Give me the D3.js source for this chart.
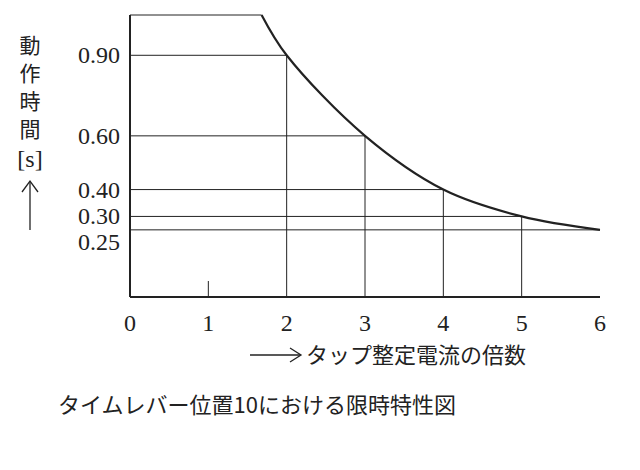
<!DOCTYPE html>
<html><head><meta charset="utf-8">
<script src="https://cdn.jsdelivr.net/npm/d3@7"></script>
<style>body{margin:0;background:#fff}</style></head>
<body><svg id="c" width="640" height="470"></svg>
<script>
const curveX = [1.68, 2, 3, 4, 5, 6];
const curveY = [1.05, 0.9, 0.6, 0.4, 0.3, 0.25];
const gridX = [2, 3, 4, 5];
const gridY = [0.9, 0.6, 0.4, 0.3, 0.25];
const xTicks = [0, 1, 2, 3, 4, 5, 6];
const yTickLabels = ['0.90', '0.60', '0.40', '0.30', '0.25'];
const yLabelChars = ['動', '作', '時', '間'];

const svg = d3.select('#c');
const x = d3.scaleLinear().domain([0, 6]).range([130, 600]);
const y = d3.scaleLinear().domain([0, 1.05]).range([297, 15]);
const serif = 'Liberation Serif, DejaVu Serif, serif';
const jp = 'Noto Sans CJK JP, sans-serif';
const at = v => curveY[curveX.indexOf(v)];

const line = d3.line().x((d, i) => x(curveX[i])).y(d => y(d)).curve(d3.curveCatmullRom.alpha(0.5));
svg.append('path').datum(curveY).attr('d', line)
  .attr('fill', 'none').attr('stroke', '#222').attr('stroke-width', 2.2);

const g = svg.append('g').attr('stroke', '#222').attr('stroke-width', 1);
g.selectAll('.h').data(gridY).join('line')
  .attr('x1', x(0)).attr('x2', d => x(curveX[curveY.indexOf(d)])).attr('y1', d => y(d)).attr('y2', d => y(d));
g.selectAll('.v').data(gridX).join('line')
  .attr('x1', d => x(d)).attr('x2', d => x(d)).attr('y1', y(0)).attr('y2', d => y(at(d)));
g.append('line').attr('x1', x(1)).attr('x2', x(1)).attr('y1', y(0)).attr('y2', y(0) - 16);
g.append('line').attr('x1', x(0)).attr('x2', x(curveX[0])).attr('y1', y(1.05)).attr('y2', y(1.05));
g.append('line').attr('x1', x(0)).attr('x2', x(0)).attr('y1', y(1.05)).attr('y2', y(0)).attr('stroke-width', 2);
g.append('line').attr('x1', x(0)).attr('x2', x(6)).attr('y1', y(0)).attr('y2', y(0)).attr('stroke-width', 2);

svg.selectAll('.xt').data(xTicks).join('text')
  .attr('x', d => x(d)).attr('y', 331).attr('text-anchor', 'middle')
  .attr('font-family', serif).attr('font-size', 24).attr('fill', '#222').text(d => d);
svg.selectAll('.yt').data(gridY).join('text')
  .attr('x', 120).attr('y', d => y(d) + 8 + (d === 0.25 ? 12 : 0)).attr('text-anchor', 'end')
  .attr('font-family', serif).attr('font-size', 24).attr('fill', '#222').text((d, i) => yTickLabels[i]);

svg.selectAll('.yl').data(yLabelChars).join('text')
  .attr('x', 30).attr('y', (d, i) => 53 + i * 28).attr('text-anchor', 'middle')
  .attr('font-family', jp).attr('font-size', 21).attr('fill', '#222').text(d => d);
svg.append('text').attr('x', 30).attr('y', 167).attr('text-anchor', 'middle')
  .attr('font-family', serif).attr('font-size', 24).attr('fill', '#222').text('[s]');
svg.append('line').attr('x1', 30).attr('x2', 30).attr('y1', 182).attr('y2', 230).attr('stroke', '#222').attr('stroke-width', 1.3);
svg.append('path').attr('d', 'M22,192 L30,181 L38,192').attr('fill', 'none').attr('stroke', '#222').attr('stroke-width', 1.3);

svg.append('line').attr('x1', 250).attr('x2', 300).attr('y1', 355).attr('y2', 355).attr('stroke', '#222').attr('stroke-width', 1.3);
svg.append('path').attr('d', 'M290,348 L301,355 L290,362').attr('fill', 'none').attr('stroke', '#222').attr('stroke-width', 1.3);
svg.append('text').attr('x', 306).attr('y', 363).attr('font-family', jp).attr('font-size', 22).attr('fill', '#222').text('タップ整定電流の倍数');
svg.append('text').attr('x', 58).attr('y', 413).attr('font-family', jp).attr('font-size', 22).attr('fill', '#222').text('タイムレバー位置10における限時特性図');
</script></body></html>
